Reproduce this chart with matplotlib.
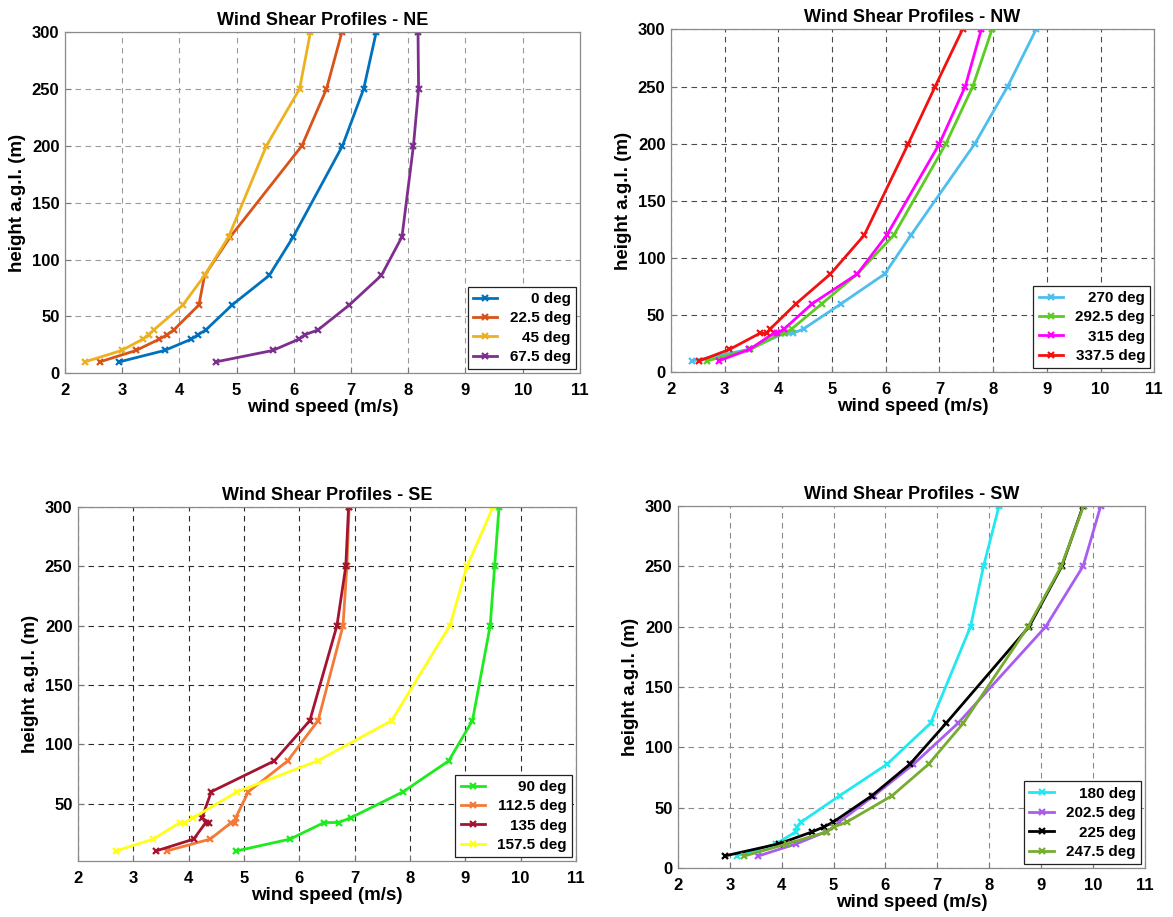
import matplotlib
matplotlib.use("Agg")
import matplotlib.pyplot as plt

plt.rcParams['font.family'] = ['Liberation Sans', 'DejaVu Sans']
plt.rcParams['font.weight'] = 'bold'

# ---------------- data ----------------
H_NE = [10, 20, 30, 34, 38, 60, 86, 120, 200, 250, 300]
ne_0 = [2.95, 3.74, 4.21, 4.33, 4.46, 4.92, 5.57, 5.99, 6.85, 7.22, 7.44]
ne_22 = [2.61, 3.24, 3.65, 3.79, 3.90, 4.34, 4.44, 4.89, 6.14, 6.57, 6.84]
ne_45 = [2.35, 2.99, 3.36, 3.46, 3.55, 4.06, 4.44, 4.86, 5.52, 6.10, 6.29]
ne_67 = [4.64, 5.63, 6.09, 6.20, 6.42, 6.97, 7.53, 7.89, 8.09, 8.18, 8.17]

H_NW = [10, 20, 34, 34, 38, 60, 86, 120, 200, 250, 300]
nw_270 = [2.40, 3.45, 4.10, 4.27, 4.47, 5.17, 5.98, 6.47, 7.66, 8.27, 8.80]
nw_292 = [2.67, 3.48, 4.05, 4.12, 4.25, 4.81, 5.47, 6.15, 7.12, 7.62, 7.98]
nw_315 = [2.89, 3.46, 3.91, 3.98, 4.11, 4.63, 5.47, 6.02, 7.00, 7.48, 7.78]
nw_337 = [2.53, 3.09, 3.65, 3.78, 3.85, 4.33, 4.97, 5.60, 6.42, 6.92, 7.43]

H_SE = [10, 20, 34, 34, 38, 60, 86, 120, 200, 250, 300]
se_90 = [4.86, 5.83, 6.45, 6.71, 6.93, 7.88, 8.70, 9.13, 9.45, 9.53, 9.61]
se_112 = [3.60, 4.39, 4.77, 4.84, 4.85, 5.08, 5.79, 6.34, 6.79, 6.86, 6.90]
se_135 = [3.41, 4.09, 4.31, 4.36, 4.24, 4.41, 5.55, 6.19, 6.68, 6.84, 6.89]
se_157 = [2.68, 3.36, 3.84, 3.93, 4.08, 4.88, 6.33, 7.67, 8.72, 9.03, 9.50]

H_SW = [10, 20, 30, 34, 38, 60, 86, 120, 200, 250, 300]
sw_180 = [3.13, 3.89, 4.27, 4.30, 4.37, 5.12, 6.03, 6.87, 7.64, 7.89, 8.19]
sw_202 = [3.55, 4.28, 4.85, 5.00, 5.10, 5.78, 6.54, 7.40, 9.09, 9.81, 10.15]
sw_225 = [2.90, 3.94, 4.59, 4.81, 4.99, 5.74, 6.47, 7.17, 8.77, 9.40, 9.81]
sw_247 = [3.28, 4.10, 4.87, 5.00, 5.25, 6.13, 6.83, 7.50, 8.75, 9.39, 9.82]

x_ticks = [2, 3, 4, 5, 6, 7, 8, 9, 10, 11]

panels = [
    dict(title='Wind Shear Profiles - NE', heights=H_NE,
         series=[(ne_0, '0 deg', '#0072BD'), (ne_22, '22.5 deg', '#D95319'),
                 (ne_45, '45 deg', '#EDB120'), (ne_67, '67.5 deg', '#7E2F8E')],
         rect=[0.0554, 0.593, 0.439, 0.372], ylim=(0, 300),
         yticks=[0, 50, 100, 150, 200, 250, 300], grid='#9a9a9a'),
    dict(title='Wind Shear Profiles - NW', heights=H_NW,
         series=[(nw_270, '270 deg', '#4DBEEE'), (nw_292, '292.5 deg', '#5CCB22'),
                 (nw_315, '315 deg', '#FF00FF'), (nw_337, '337.5 deg', '#F21010')],
         rect=[0.572, 0.594, 0.412, 0.374], ylim=(0, 300),
         yticks=[0, 50, 100, 150, 200, 250, 300], grid='#4a4a4a'),
    dict(title='Wind Shear Profiles - SE', heights=H_SE,
         series=[(se_90, '90 deg', '#1EEB1E'), (se_112, '112.5 deg', '#F47A35'),
                 (se_135, '135 deg', '#A2142F'), (se_157, '157.5 deg', '#FFFF1A')],
         rect=[0.0665, 0.061, 0.4245, 0.386], ylim=(1.5, 300),
         yticks=[50, 100, 150, 200, 250, 300], grid='#2a2a2a'),
    dict(title='Wind Shear Profiles - SW', heights=H_SW,
         series=[(sw_180, '180 deg', '#22E8F0'), (sw_202, '202.5 deg', '#A95CF0'),
                 (sw_225, '225 deg', '#000000'), (sw_247, '247.5 deg', '#77AC30')],
         rect=[0.578, 0.0534, 0.398, 0.395], ylim=(0, 300),
         yticks=[0, 50, 100, 150, 200, 250, 300], grid='#8a8a8a'),
]

fig = plt.figure(figsize=(11.73, 9.17), dpi=100)
fig.patch.set_facecolor('white')

legends = []
for p in panels:
    ax = fig.add_axes(p['rect'])
    for xs, lab, col in p['series']:
        ax.plot(xs, p['heights'], color=col, lw=2.0, marker='x', ms=5,
                mew=1.6, label=lab)
    ax.set_xlim(2, 11)
    ax.set_ylim(*p['ylim'])
    ax.set_xticks(x_ticks)
    ax.set_yticks(p['yticks'])
    ax.tick_params(labelsize=12, direction='in', length=4, color='#777777')
    ax.tick_params(axis='x', pad=7)
    ax.tick_params(axis='y', pad=4)
    for t in ax.get_xticklabels() + ax.get_yticklabels():
        t.set_fontweight('bold')
    ax.grid(True, linestyle=(0, (5, 4)), color=p['grid'], lw=0.8)
    for s in ax.spines.values():
        s.set_color('#8a8a8a')
        s.set_linewidth(0.9)
    ax.set_title(p['title'], fontsize=13, fontweight='bold', pad=5)
    ax.set_xlabel('wind speed (m/s)', fontsize=13.5, fontweight='bold', labelpad=1)
    ax.set_ylabel('height a.g.l. (m)', fontsize=13.5, fontweight='bold', labelpad=4)
    leg = ax.legend(loc='lower right', fontsize=11, fancybox=False,
                    edgecolor='#222222', framealpha=1, borderaxespad=0.25,
                    handlelength=1.6, borderpad=0.35, labelspacing=0.35,
                    handletextpad=0.8)
    leg.get_frame().set_linewidth(0.9)
    for t in leg.get_texts():
        t.set_fontweight('bold')
    legends.append(leg)

fig.canvas.draw()
renderer = fig.canvas.get_renderer()
for leg in legends:
    texts = leg.get_texts()
    widths = [t.get_window_extent(renderer).width for t in texts]
    w = max(widths)
    for t, wi in zip(texts, widths):
        t.set_position((w - wi, 0))

fig.savefig('out.png', dpi=100, facecolor='white')
